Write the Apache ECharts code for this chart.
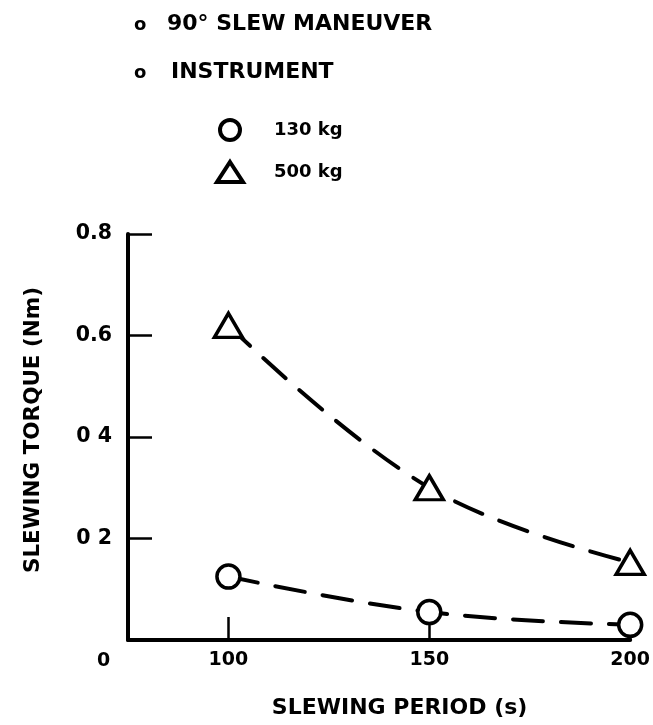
<!DOCTYPE html>
<html>
<head>
<meta charset="utf-8">
<script src="https://cdn.jsdelivr.net/npm/echarts@6/dist/echarts.min.js"></script>
<style>
html,body{margin:0;padding:0;background:#fff;}
#chart{width:653px;height:725px;}
</style>
</head>
<body>
<div id="chart"></div>
<script>
// ---- data ----
const periods = [100, 150, 200];                 // SLEWING PERIOD (s)
const torque130 = [0.125, 0.055, 0.03];          // 130 kg instrument
const torque500 = [0.62, 0.30, 0.153];           // 500 kg instrument
const seriesNames = ['130 kg', '500 kg'];
const xTickValues = [100, 150, 200];
const yTickValues = [0.2, 0.4, 0.6, 0.8];
const yTickLabels = ['0 2', '0 4', '0.6', '0.8'];
const noteLines = ['90\u00B0 SLEW MANEUVER', 'INSTRUMENT'];
const xAxisName = 'SLEWING PERIOD (s)';
const yAxisName = 'SLEWING TORQUE (Nm)';
const originLabel = '0';

const FONT = '"DejaVu Sans", Verdana, sans-serif';
const chart = echarts.init(document.getElementById('chart'), null, {renderer: 'canvas'});

function pairs(xs, ys) { return xs.map((x, i) => [x, ys[i]]); }

const markerStyle = {color: '#fff', borderColor: '#000', borderWidth: 3.5};
const dashStyle = {color: '#000', width: 4, type: [30, 18], cap: 'round'};

chart.setOption({
  animation: false,
  backgroundColor: '#fff',
  textStyle: {fontFamily: FONT},
  grid: {left: 128, right: 22, top: 234, bottom: 85, containLabel: false},
  legend: {
    orient: 'vertical',
    left: 210,
    top: 113,
    itemWidth: 26,
    itemHeight: 20,
    itemGap: 18,
    selectedMode: false,
    textStyle: {fontFamily: FONT, fontWeight: 'bold', fontSize: 18, color: '#000', padding: [0, 0, 0, 26], lineHeight: 20},
    data: [
      {name: seriesNames[0], icon: 'circle', itemStyle: {color: '#fff', borderColor: '#000', borderWidth: 4}},
      {name: seriesNames[1], icon: 'triangle', itemStyle: {color: '#fff', borderColor: '#000', borderWidth: 4}}
    ]
  },
  xAxis: {
    type: 'value',
    min: 75,
    max: 200,
    name: xAxisName,
    nameLocation: 'middle',
    nameGap: 57,
    nameTextStyle: {fontFamily: FONT, fontWeight: 'bold', fontSize: 22, color: '#000', padding: [0, 0, 0, 41]},
    axisLine: {show: true, onZero: false, lineStyle: {color: '#000', width: 4}},
    axisTick: {show: true, inside: true, length: 23, customValues: xTickValues, lineStyle: {color: '#000', width: 2.5}},
    axisLabel: {show: true, customValues: xTickValues, margin: 11, fontFamily: FONT, fontWeight: 'bold', fontSize: 19, color: '#000'},
    splitLine: {show: false}
  },
  yAxis: {
    type: 'value',
    min: 0,
    max: 0.8,
    interval: 0.2,
    name: yAxisName,
    nameLocation: 'middle',
    nameGap: 84,
    nameRotate: 90,
    nameTextStyle: {fontFamily: FONT, fontWeight: 'bold', fontSize: 21.5, color: '#000', padding: [0, 0, 0, 14]},
    axisLine: {show: true, lineStyle: {color: '#000', width: 4}},
    axisTick: {show: true, inside: true, length: 24, customValues: yTickValues, lineStyle: {color: '#000', width: 2.5}},
    axisLabel: {
      show: true, customValues: yTickValues, margin: 16,
      fontFamily: FONT, fontWeight: 'bold', fontSize: 20.5, color: '#000',
      formatter: function (v) {
        const i = yTickValues.findIndex(t => Math.abs(t - v) < 1e-9);
        return i >= 0 ? yTickLabels[i] : '';
      }
    },
    splitLine: {show: false}
  },
  series: [
    {
      name: seriesNames[0],
      type: 'line',
      smooth: 0.4,
      data: pairs(periods, torque130),
      symbol: 'circle',
      symbolSize: 23,
      itemStyle: markerStyle,
      lineStyle: dashStyle,
      z: 3
    },
    {
      name: seriesNames[1],
      type: 'line',
      smooth: 0.4,
      data: pairs(periods, torque500),
      symbol: 'triangle',
      symbolSize: [28, 24],
      symbolKeepAspect: false,
      itemStyle: markerStyle,
      lineStyle: dashStyle,
      z: 3
    }
  ],
  graphic: [
    {type: 'text', left: 134, top: 16, style: {text: 'o', font: 'bold 18px ' + FONT, fill: '#000'}},
    {type: 'text', left: 167, top: 13, style: {text: noteLines[0], font: 'bold 22px ' + FONT, fill: '#000'}},
    {type: 'text', left: 134, top: 64, style: {text: 'o', font: 'bold 18px ' + FONT, fill: '#000'}},
    {type: 'text', left: 171, top: 61, style: {text: noteLines[1], font: 'bold 22px ' + FONT, fill: '#000'}},
    {type: 'text', left: 97, top: 652, style: {text: originLabel, font: 'bold 19px ' + FONT, fill: '#000'}}
  ]
});
</script>
</body>
</html>
